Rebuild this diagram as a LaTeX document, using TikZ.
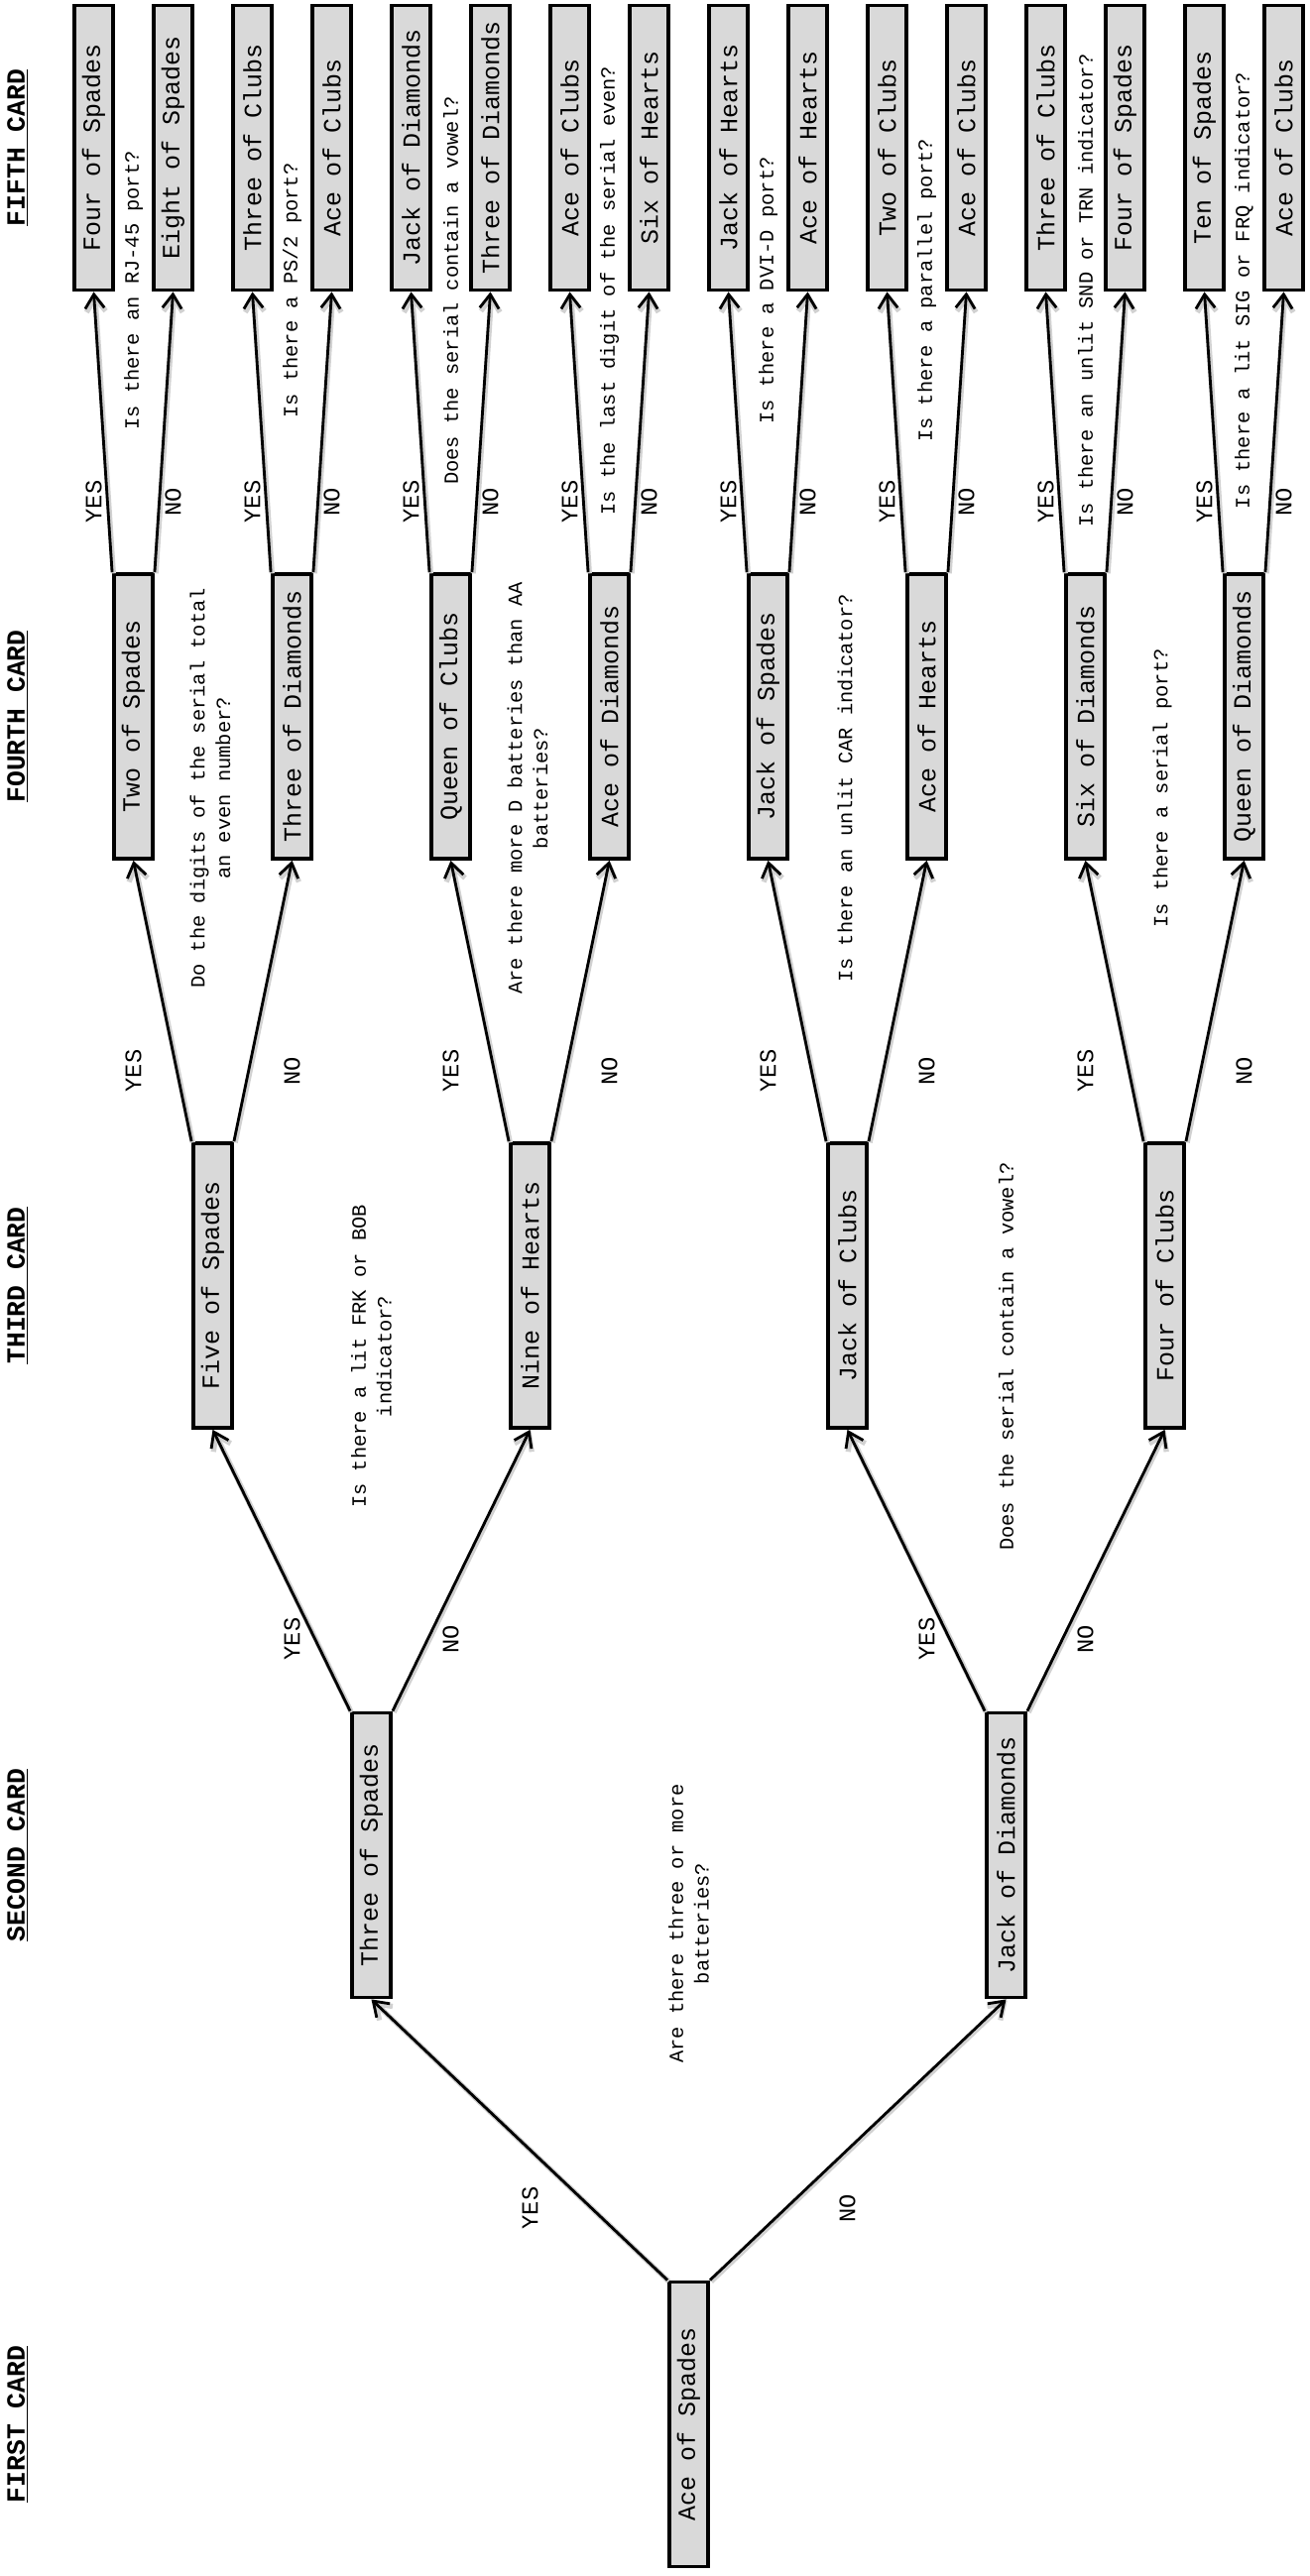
\documentclass[tikz,border=0pt]{standalone}
\usepackage{fontspec}
\setmonofont{Liberation Mono}
\usetikzlibrary{arrows.meta}

\begin{document}
\begin{tikzpicture}[x=0.02cm,y=-0.02cm,
  card/.style={draw,line width=2.2pt,fill=black!15,rotate=90,
    minimum width=5.74cm,minimum height=0.78cm,inner sep=0pt,
    font=\ttfamily\fontsize{14.2}{16}\selectfont},
  branch/.style={line width=1.6pt,-{Straight Barb[length=8pt,width=11pt]},
    preaction={draw=black!18,line width=3pt,
      transform canvas={shift={(0.7pt,-0.7pt)}}}},
  answer/.style={rotate=90,inner sep=0pt,font=\ttfamily\fontsize{13.5}{16}\selectfont},
  question/.style={rotate=90,inner sep=0pt,align=center,
    font=\ttfamily\fontsize{11.6}{14.7}\selectfont},
  level/.style={rotate=90,inner sep=0pt,font=\ttfamily\bfseries\fontsize{15}{18}\selectfont}]
\useasboundingbox (0,0) rectangle (1320,2598);

% column headings
\node[level] (h1) at (18,2445) {\underline{FIRST CARD}};
\node[level] (h2) at (18,1871) {\underline{SECOND CARD}};
\node[level] (h3) at (18,1296.5) {\underline{THIRD CARD}};
\node[level] (h4) at (18,722.5) {\underline{FOURTH CARD}};
\node[level] (h5) at (18,149) {\underline{FIFTH CARD}};

% cards
\node[card] (l1) at (694.5,2445) {Ace of Spades};

\node[card] (l2a) at (374.5,1871) {Three of Spades};
\node[card] (l2b) at (1014.5,1871) {Jack of Diamonds};

\node[card] (l3a) at (214.5,1296.5) {Five of Spades};
\node[card] (l3b) at (534.5,1296.5) {Nine of Hearts};
\node[card] (l3c) at (854.5,1296.5) {Jack of Clubs};
\node[card] (l3d) at (1174.5,1296.5) {Four of Clubs};

\node[card] (l4a) at (134.5,722.5) {Two of Spades};
\node[card] (l4b) at (294.5,722.5) {Three of Diamonds};
\node[card] (l4c) at (454.5,722.5) {Queen of Clubs};
\node[card] (l4d) at (614.5,722.5) {Ace of Diamonds};
\node[card] (l4e) at (774.5,722.5) {Jack of Spades};
\node[card] (l4f) at (934.5,722.5) {Ace of Hearts};
\node[card] (l4g) at (1094.5,722.5) {Six of Diamonds};
\node[card] (l4h) at (1254.5,722.5) {Queen of Diamonds};

\node[card] (l5a) at (94.5,149) {Four of Spades};
\node[card] (l5b) at (174.5,149) {Eight of Spades};
\node[card] (l5c) at (254.5,149) {Three of Clubs};
\node[card] (l5d) at (334.5,149) {Ace of Clubs};
\node[card] (l5e) at (414.5,149) {Jack of Diamonds};
\node[card] (l5f) at (494.5,149) {Three of Diamonds};
\node[card] (l5g) at (574.5,149) {Ace of Clubs};
\node[card] (l5h) at (654.5,149) {Six of Hearts};
\node[card] (l5i) at (734.5,149) {Jack of Hearts};
\node[card] (l5j) at (814.5,149) {Ace of Hearts};
\node[card] (l5k) at (894.5,149) {Two of Clubs};
\node[card] (l5l) at (974.5,149) {Ace of Clubs};
\node[card] (l5m) at (1054.5,149) {Three of Clubs};
\node[card] (l5n) at (1134.5,149) {Four of Spades};
\node[card] (l5o) at (1214.5,149) {Ten of Spades};
\node[card] (l5p) at (1294.5,149) {Ace of Clubs};

% branches, yes from the left corner, no from the right one
\draw[branch] (l1.north east) -- (l2a.west);
\draw[branch] (l1.south east) -- (l2b.west);

\draw[branch] (l2a.north east) -- (l3a.west);
\draw[branch] (l2a.south east) -- (l3b.west);
\draw[branch] (l2b.north east) -- (l3c.west);
\draw[branch] (l2b.south east) -- (l3d.west);

\draw[branch] (l3a.north east) -- (l4a.west);
\draw[branch] (l3a.south east) -- (l4b.west);
\draw[branch] (l3b.north east) -- (l4c.west);
\draw[branch] (l3b.south east) -- (l4d.west);
\draw[branch] (l3c.north east) -- (l4e.west);
\draw[branch] (l3c.south east) -- (l4f.west);
\draw[branch] (l3d.north east) -- (l4g.west);
\draw[branch] (l3d.south east) -- (l4h.west);

\draw[branch] (l4a.north east) -- (l5a.west);
\draw[branch] (l4a.south east) -- (l5b.west);
\draw[branch] (l4b.north east) -- (l5c.west);
\draw[branch] (l4b.south east) -- (l5d.west);
\draw[branch] (l4c.north east) -- (l5e.west);
\draw[branch] (l4c.south east) -- (l5f.west);
\draw[branch] (l4d.north east) -- (l5g.west);
\draw[branch] (l4d.south east) -- (l5h.west);
\draw[branch] (l4e.north east) -- (l5i.west);
\draw[branch] (l4e.south east) -- (l5j.west);
\draw[branch] (l4f.north east) -- (l5k.west);
\draw[branch] (l4f.south east) -- (l5l.west);
\draw[branch] (l4g.north east) -- (l5m.west);
\draw[branch] (l4g.south east) -- (l5n.west);
\draw[branch] (l4h.north east) -- (l5o.west);
\draw[branch] (l4h.south east) -- (l5p.west);

% answers
\node[answer] (y1) at (534.5,2227) {YES};
\node[answer] (n1) at (854.5,2227) {NO};

\node[answer] (y2a) at (294.5,1653) {YES};
\node[answer] (n2a) at (454.5,1653) {NO};
\node[answer] (y2b) at (934.5,1653) {YES};
\node[answer] (n2b) at (1094.5,1653) {NO};

\node[answer] (y3a) at (134.5,1080) {YES};
\node[answer] (n3a) at (294.5,1080) {NO};
\node[answer] (y3b) at (454.5,1080) {YES};
\node[answer] (n3b) at (614.5,1080) {NO};
\node[answer] (y3c) at (774.5,1080) {YES};
\node[answer] (n3c) at (934.5,1080) {NO};
\node[answer] (y3d) at (1094.5,1080) {YES};
\node[answer] (n3d) at (1254.5,1080) {NO};

\node[answer] (y4a) at (94.5,506) {YES};
\node[answer] (n4a) at (174.5,506) {NO};
\node[answer] (y4b) at (254.5,506) {YES};
\node[answer] (n4b) at (334.5,506) {NO};
\node[answer] (y4c) at (414.5,506) {YES};
\node[answer] (n4c) at (494.5,506) {NO};
\node[answer] (y4d) at (574.5,506) {YES};
\node[answer] (n4d) at (654.5,506) {NO};
\node[answer] (y4e) at (734.5,506) {YES};
\node[answer] (n4e) at (814.5,506) {NO};
\node[answer] (y4f) at (894.5,506) {YES};
\node[answer] (n4f) at (974.5,506) {NO};
\node[answer] (y4g) at (1054.5,506) {YES};
\node[answer] (n4g) at (1134.5,506) {NO};
\node[answer] (y4h) at (1214.5,506) {YES};
\node[answer] (n4h) at (1294.5,506) {NO};

% questions
\node[question] (q1) at (694.5,1940) {Are there three or more\\batteries?};

\node[question] (q2a) at (374.5,1368) {Is there a lit FRK or BOB\\indicator?};
\node[question] (q2b) at (1014.5,1368) {Does the serial contain a vowel?};

\node[question] (q3a) at (212,795) {Do the digits of the serial total\\an even number?};
\node[question] (q3b) at (532,795) {Are there more D batteries than AA\\batteries?};
\node[question] (q3c) at (852,795) {Is there an unlit CAR indicator?};
\node[question] (q3d) at (1172,795) {Is there a serial port?};

\node[question] (q4a) at (134.5,293) {Is there an RJ-45 port?};
\node[question] (q4b) at (294.5,293) {Is there a PS/2 port?};
\node[question] (q4c) at (454.5,293) {Does the serial contain a vowel?};
\node[question] (q4d) at (614.5,293) {Is the last digit of the serial even?};
\node[question] (q4e) at (774.5,293) {Is there a DVI-D port?};
\node[question] (q4f) at (934.5,293) {Is there a parallel port?};
\node[question] (q4g) at (1094.5,293) {Is there an unlit SND or TRN indicator?};
\node[question] (q4h) at (1254.5,293) {Is there a lit SIG or FRQ indicator?};
\end{tikzpicture}
\end{document}
